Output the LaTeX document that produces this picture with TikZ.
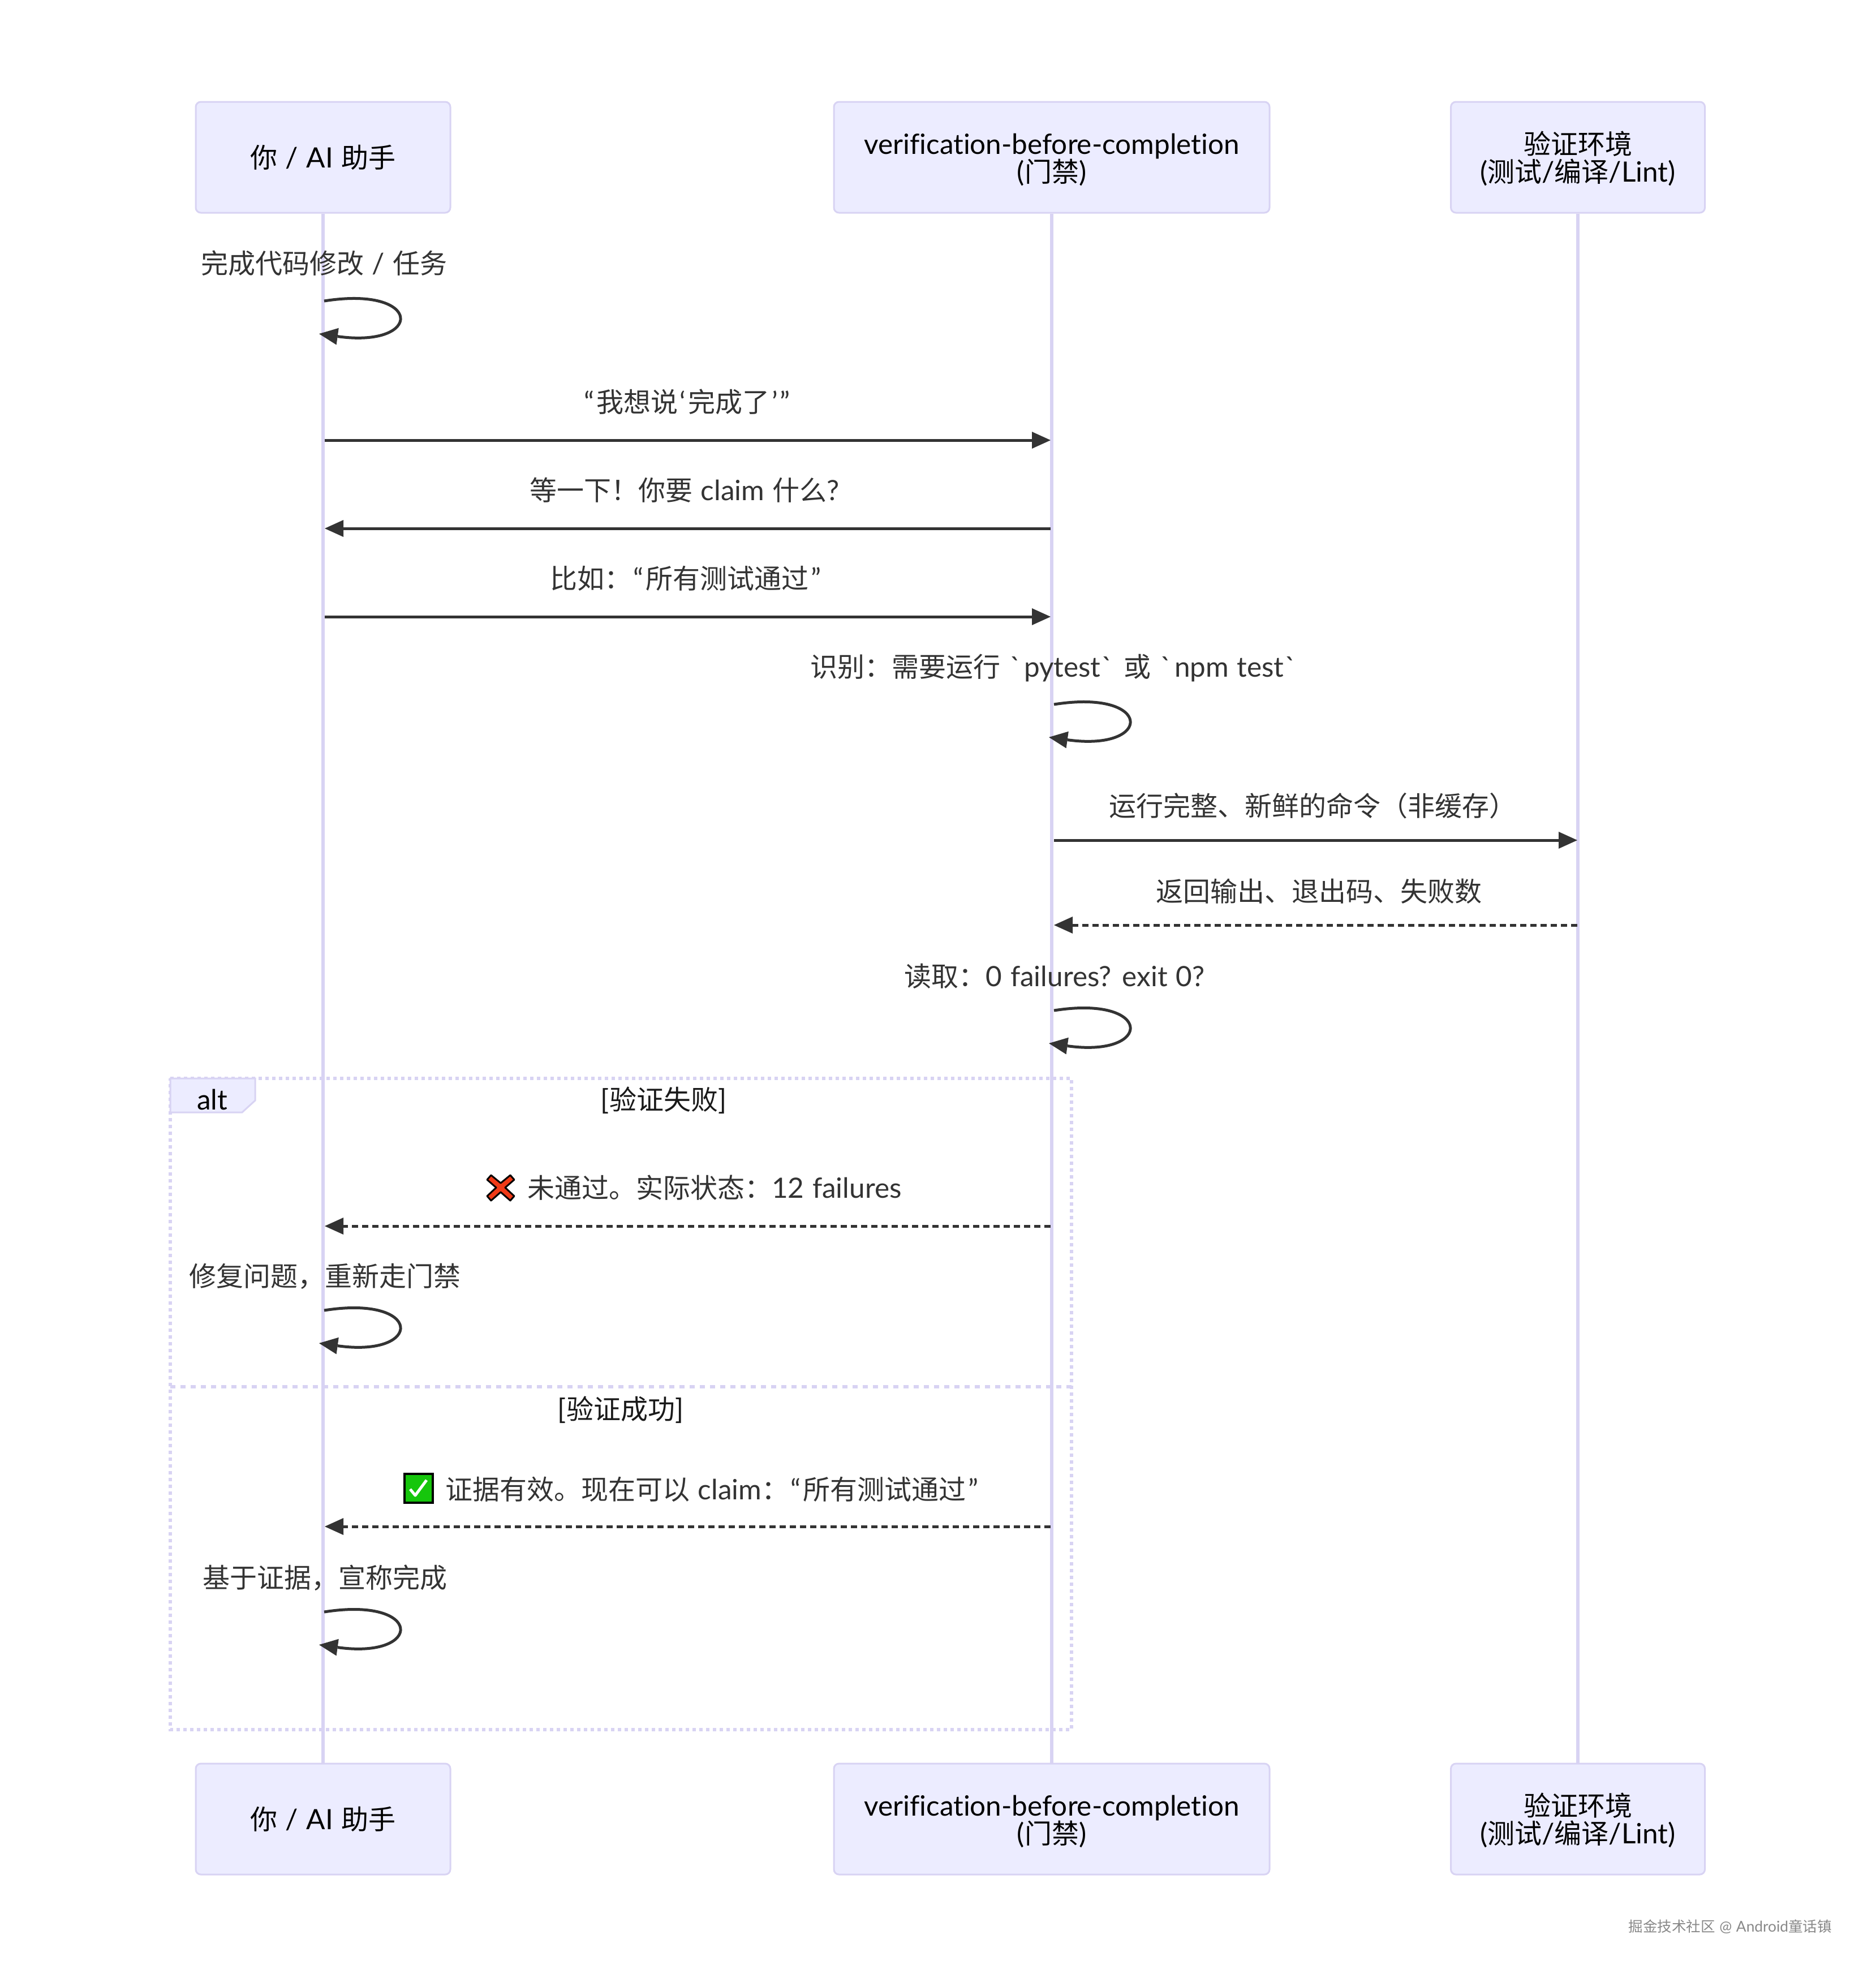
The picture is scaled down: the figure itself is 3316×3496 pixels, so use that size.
\documentclass[tikz,border=0pt]{standalone}
\usepackage{fontspec}
\setmainfont{Lato}[Scale=1.03,WordSpace=1.15,Ligatures={NoCommon}]
\newfontfamily\rawlat{Lato}[Scale=1.03]
\newfontfamily\cjk{Noto Sans CJK SC}
\newcommand{\zh}[1]{{\cjk #1}}
\newcommand{\btk}{{\rawlat\hspace{2pt}\symbol{96}\hspace{5pt}}}
\newcommand{\qo}{\hspace{3pt}“\hspace{4pt}}
\newcommand{\qc}{\hspace{4pt}”\hspace{3pt}}
\newcommand{\so}{\hspace{3pt}‘\hspace{4pt}}
\newcommand{\sq}{\hspace{4pt}’}
\newcommand{\firstline}{\rule{0pt}{46pt}}
\usetikzlibrary{arrows.meta}
\definecolor{boxfill}{HTML}{ECECFF}
\definecolor{lilac}{HTML}{D8D3F3}
\definecolor{ink}{HTML}{333333}
\definecolor{crossred}{HTML}{F03A17}
\definecolor{checkgreen}{HTML}{16C60C}
\tikzset{
  actorbox/.style={draw=lilac,fill=boxfill,line width=3pt,rounded corners=9pt,minimum height=196pt,inner sep=0pt,align=center,text=black,font=\fontsize{48}{49}\selectfont},
  lifeline/.style={draw=lilac,line width=6pt},
  framedash/.style={draw=lilac,line width=6pt,dash pattern=on 6pt off 6pt},
  dividerdash/.style={draw=lilac,line width=6pt,dash pattern=on 9pt off 9pt},
  msgline/.style={draw=ink,line width=5pt,-{Triangle[length=33pt,width=30pt,line width=0pt]}},
  msgdash/.style={msgline,dash pattern=on 11pt off 7pt},
  looparc/.style={msgline,line width=5pt},
  msgtext/.style={inner sep=0pt,text=ink,font=\fontsize{48}{49}\selectfont,text height=44pt,text depth=6pt},
  sectext/.style={msgtext,text=black!90}
}
\begin{document}
\begin{tikzpicture}[x=1pt,y=-1pt]
\useasboundingbox (0,0) rectangle (3316,3496);
% actors
\node[actorbox,minimum width=450pt] (a1) at (571,278) {\zh{你} / AI \zh{助手}};
\node[actorbox,minimum width=770pt] (b1) at (1859,278) {\firstline verification-before-completion\\(\zh{门禁})};
\node[actorbox,minimum width=449pt] (c1) at (2789,278) {\firstline\zh{验证环境}\\(\zh{测试}/\zh{编译}/Lint)};
\node[actorbox,minimum width=450pt] (a2) at (571,3215) {\zh{你} / AI \zh{助手}};
\node[actorbox,minimum width=770pt] (b2) at (1859,3215) {\firstline verification-before-completion\\(\zh{门禁})};
\node[actorbox,minimum width=449pt] (c2) at (2789,3215) {\firstline\zh{验证环境}\\(\zh{测试}/\zh{编译}/Lint)};
% lifelines
\draw[lifeline] (a1.south) -- (a2.north);
\draw[lifeline] (b1.south) -- (b2.north);
\draw[lifeline] (c1.south) -- (c2.north);
% alt frame
\coordinate (fTL) at (301,1906);
\coordinate (fTR) at (1894,1906);
\coordinate (fBR) at (1894,3057);
\coordinate (fBL) at (301,3057);
\coordinate (dL) at (301,2451);
\coordinate (dR) at (1894,2451);
\draw[framedash] (fTL) -- (fTR) -- (fBR) -- (fBL) -- cycle;
\draw[dividerdash] (dL) -- (dR);
\draw[draw=lilac,fill=boxfill,line width=3pt] (fTL) -- (451,1906) -- (451,1945) -- (428,1966) -- (301,1966) -- cycle;
\node[msgtext,text=black] (alt) at (375,1942) {alt};
\node[sectext] (s1) at (1173,1942) {[\zh{验证失败}]};
\node[sectext] (s2) at (1097,2489) {[\zh{验证成功}]};
% message end points
\coordinate (m1s) at (574,778);  \coordinate (m1e) at (1857,778);
\coordinate (m2s) at (1857,934); \coordinate (m2e) at (574,934);
\coordinate (m3s) at (574,1090); \coordinate (m3e) at (1857,1090);
\coordinate (m4s) at (1863,1485); \coordinate (m4e) at (2788,1485);
\coordinate (m5s) at (2788,1635); \coordinate (m5e) at (1863,1635);
\coordinate (m6s) at (1857,2167); \coordinate (m6e) at (574,2167);
\coordinate (m7s) at (1857,2698); \coordinate (m7e) at (574,2698);
\draw[msgline] (m1s) -- (m1e);
\draw[msgline] (m2s) -- (m2e);
\draw[msgline] (m3s) -- (m3e);
\draw[msgline] (m4s) -- (m4e);
\draw[msgdash] (m5s) -- (m5e);
\draw[msgdash] (m6s) -- (m6e);
\draw[msgdash] (m7s) -- (m7e);
% self loops
\coordinate (l1s) at (573,532);  \coordinate (l1e) at (564,590);
\coordinate (l2s) at (1863,1245); \coordinate (l2e) at (1854,1303);
\coordinate (l3s) at (1863,1786); \coordinate (l3e) at (1854,1844);
\coordinate (l4s) at (573,2316); \coordinate (l4e) at (564,2374);
\coordinate (l5s) at (573,2849); \coordinate (l5e) at (564,2907);
\foreach \n in {1,...,5}{
  \draw[looparc] (l\n s) .. controls +(176,-28) and +(185,26) .. (l\n e);
}
% labels
\node[msgtext] (t1) at (573,464) {\zh{完成代码修改} / \zh{任务}};
\node[msgtext] (t2) at (1213,709) {\qo\zh{我想说}\so\zh{完成了}\sq\qc};
\node[msgtext] (t3) at (1210,865) {\zh{等一下！你要} claim \zh{什么}?};
\node[msgtext] (t4) at (1212,1021) {\zh{比如：}\qo\zh{所有测试通过}\qc};
\node[msgtext] (t5) at (1862,1177) {\zh{识别：需要运行} \btk pytest\btk{} \zh{或} \btk npm test\btk};
\node[msgtext] (t6) at (2320,1423) {\zh{运行完整、新鲜的命令（非缓存）}};
\node[msgtext] (t7) at (2331,1574) {\zh{返回输出、退出码、失败数}};
\node[msgtext] (t8) at (1864,1724) {\zh{读取：}0 failures? exit 0?};
\node[msgtext,anchor=west] (t9) at (932,2098) {\zh{未通过。实际状态：}12 failures};
\node[msgtext] (t10) at (574,2254) {\zh{修复问题，重新走门禁}};
\node[msgtext,anchor=west] (t11) at (787,2631) {\zh{证据有效。现在可以} claim\zh{：}\qo\zh{所有测试通过}\qc};
\node[msgtext] (t12) at (574,2787) {\zh{基于证据，宣称完成}};
% emoji icons
\filldraw[draw=black,fill=crossred,line width=3pt,line join=round]
  (868,2077) -- (885,2091) -- (902,2077) -- (909,2085) -- (893,2099) -- (909,2114) -- (902,2122) -- (885,2107) -- (868,2122) -- (861,2114) -- (877,2099) -- (861,2085) -- cycle;
\filldraw[draw=black,fill=checkgreen,line width=4pt] (715,2605) rectangle (765,2656);
\draw[white,line width=5pt,line join=round] (725,2632) -- (734,2643) -- (754,2616);
% watermark
\node[inner sep=0pt,text={rgb,255:red,136;green,136;blue,136},font=\fontsize{25.5}{26}\selectfont] (wm) at (3058,3405) {\zh{掘金技术社区} @ Android\zh{童话镇}};
\end{tikzpicture}
\end{document}
